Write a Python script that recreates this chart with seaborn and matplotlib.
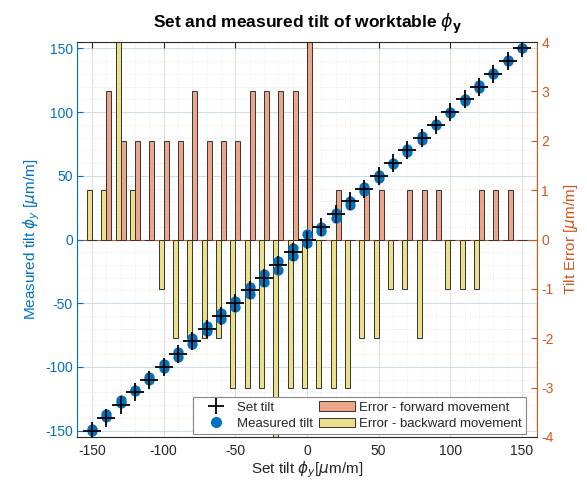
import matplotlib
matplotlib.use("Agg")
import matplotlib.pyplot as plt
from matplotlib.lines import Line2D
from matplotlib.patches import Patch
from matplotlib.ticker import MultipleLocator
import numpy as np
import pandas as pd
import seaborn as sns

# ---------------- data ----------------
set_tilt = [-150, -140, -130, -120, -110, -100, -90, -80, -70, -60, -50, -40, -30, -20, -10,
            0, 10, 20, 30, 40, 50, 60, 70, 80, 90, 100, 110, 120, 130, 140, 150]
err_forward = [0, 3, 2, 2, 2, 2, 2, 3, 2, 2, 2, 3, 3, 3, 3,
               4, 0, 1, 0, 1, 1, 0, 1, 1, 1, 0, 0, 1, 1, 1, 0]
err_backward = [1, 1, 4, 1, 0, -1, -2, -2, -2, -2, -3, -3, -3, -4, -3,
                -3, -3, -3, -3, -2, -2, -1, -1, -2, 0, -1, -1, -1, 0, 0, 0]
measured_forward = [-150, -137, -128, -118, -108, -98, -88, -77, -68, -58, -48, -37, -27, -17, -7,
                    4, 10, 21, 30, 41, 51, 60, 71, 81, 91, 100, 110, 121, 131, 141, 150]
measured_backward = [-149, -139, -126, -119, -110, -101, -92, -82, -72, -62, -53, -43, -33, -24, -13,
                     -3, 7, 17, 27, 38, 48, 59, 69, 78, 90, 99, 109, 119, 130, 140, 150]

lbl_fwd = "Error - forward movement"
lbl_bwd = "Error - backward movement"

# ---------------- style ----------------
sns.set_style("white")
plt.rcParams["font.family"] = ["Liberation Sans", "DejaVu Sans"]
plt.rcParams["mathtext.fontset"] = "dejavusans"
plt.rcParams["axes.unicode_minus"] = False

BLUE = "#0072BD"
ORANGE = "#D95319"
C_FWD = "#EBA589"
C_BWD = "#ECDF8A"
EDGE = "#333333"

fig = plt.figure(figsize=(5.87, 4.84), dpi=100)
ax = fig.add_axes([77 / 587, 1 - 437 / 484, (537 - 77) / 587, (437 - 42) / 484])
ax2 = ax.twinx()
ax.set_zorder(2)
ax2.set_zorder(1)
ax.patch.set_visible(False)

YL = 155
YR = 4

# grid drawn on the lower (bar) axes so bars sit above it
for v in range(-150, 151, 10):
    major = (v % 50 == 0)
    ax2.axhline(v * YR / YL, color="#cfdceb" if major else "#dddddd",
                lw=0.8 if major else 0.6, ls="-" if major else (0, (1, 2)), zorder=0)
for v in range(-160, 161, 10):
    major = (v % 50 == 0)
    ax2.axvline(v, color="#dedede" if major else "#e3e3e3",
                lw=0.8 if major else 0.6, ls="-" if major else (0, (1, 2)), zorder=0)

# ---------------- bars (right axis) ----------------
df = pd.DataFrame({
    "x": set_tilt + set_tilt,
    "err": err_backward + err_forward,
    "dir": [lbl_bwd] * len(set_tilt) + [lbl_fwd] * len(set_tilt),
})
sns.barplot(data=df, x="x", y="err", hue="dir", hue_order=[lbl_bwd, lbl_fwd],
            palette=[C_BWD, C_FWD], native_scale=True, width=0.7, gap=0,
            errorbar=None, saturation=1, edgecolor=EDGE, linewidth=0.7,
            legend=False, ax=ax2, zorder=2)
ax2.axhline(0, color=ORANGE, lw=0.8, zorder=1.5)

# ---------------- markers (left axis) ----------------
sns.scatterplot(x=set_tilt, y=measured_forward, color=BLUE, s=55, linewidth=0, ax=ax, zorder=3)
sns.scatterplot(x=set_tilt, y=measured_backward, color=BLUE, s=55, linewidth=0, ax=ax, zorder=3)
sns.scatterplot(x=set_tilt, y=set_tilt, marker="+", color="black", s=170, linewidth=1.3, ax=ax, zorder=4)

# ---------------- axes ----------------
ax.set_xlim(-160.5, 160.5)
ax.set_ylim(-YL, YL)
ax2.set_ylim(-YR, YR)
ax.xaxis.set_major_locator(MultipleLocator(50))
ax.set_yticks([-150, -100, -50, 0, 50, 100, 150])
ax2.set_yticks([-4, -3, -2, -1, 0, 1, 2, 3, 4])
ax2.set_xlabel("")
ax2.set_ylabel("")

ax.tick_params(axis="x", direction="in", top=True, length=4, colors="#262626", labelsize=10, pad=5)
ax.tick_params(axis="y", direction="in", length=4, colors=BLUE, labelsize=10, pad=3)
ax2.tick_params(axis="y", direction="in", length=4, colors=ORANGE, labelsize=10, pad=3)
ax2.tick_params(axis="x", bottom=False, top=False)

ax.spines["left"].set_color(BLUE)
ax.spines["right"].set_visible(False)
ax.spines["top"].set_color("#262626")
ax.spines["bottom"].set_color("#262626")
ax2.spines["right"].set_color(ORANGE)
ax2.spines["left"].set_visible(False)
ax2.spines["top"].set_visible(False)
ax2.spines["bottom"].set_visible(False)
for s in list(ax.spines.values()) + list(ax2.spines.values()):
    s.set_linewidth(0.8)

ax.set_xlabel(r"Set tilt $\phi_y$[$\mu$m/m]", fontsize=11, color="#262626", labelpad=1)
ax.set_ylabel(r"Measured tilt $\phi_y$ [$\mu$m/m]", fontsize=11, color=BLUE, labelpad=2)
ax2.set_ylabel(r"Tilt Error [$\mu$m/m]", fontsize=11, color=ORANGE, labelpad=6)
ax.set_title(r"Set and measured tilt of worktable $\phi_\mathbf{y}$", fontsize=12.5,
             fontweight="bold", color="black", pad=10)

handles = [
    Line2D([], [], marker="+", color="black", ls="none", markersize=12, markeredgewidth=1.3),
    Line2D([], [], marker="o", color=BLUE, ls="none", markersize=7),
    Patch(facecolor=C_FWD, edgecolor=EDGE, linewidth=0.7),
    Patch(facecolor=C_BWD, edgecolor=EDGE, linewidth=0.7),
]
labels = ["Set tilt", "Measured tilt", lbl_fwd, lbl_bwd]
leg = ax.legend(handles, labels, ncol=2, loc="lower right", bbox_to_anchor=(0.975, 0.008),
                fontsize=9.5, frameon=True, fancybox=False, framealpha=1, edgecolor="#888888",
                handlelength=2.8, handletextpad=0.25, columnspacing=0.4, labelspacing=0.3,
                borderpad=0.3, borderaxespad=0)
leg.get_frame().set_linewidth(0.8)
leg.set_zorder(10)

fig.savefig("out.png", dpi=100, facecolor="white")
